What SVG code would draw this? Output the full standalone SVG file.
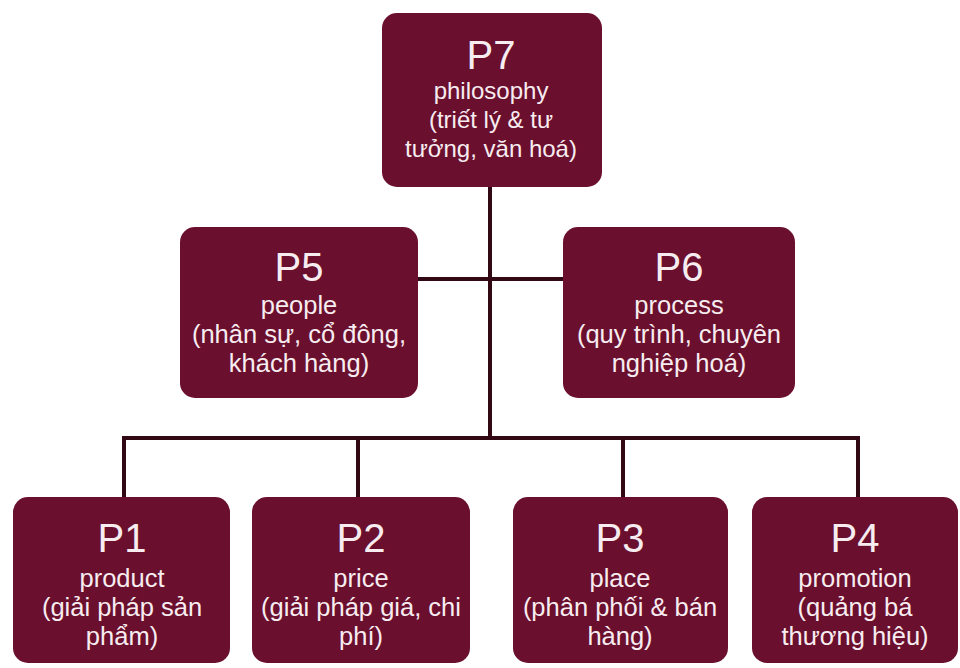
<svg xmlns="http://www.w3.org/2000/svg" width="960" height="668" viewBox="0 0 960 668">
<style>
.box{fill:#6a0f2d;}
.lbl{font-family:"Liberation Sans",Arial,sans-serif;font-size:40px;fill:#f7ecf0;text-anchor:middle;}
.sub{font-family:"Liberation Sans",Arial,sans-serif;font-size:25.5px;fill:#f7ecf0;text-anchor:middle;}
#p7 .sub{font-size:24px;}
.con{stroke:#320814;stroke-width:4;fill:none;}
</style>
<rect width="960" height="668" fill="#ffffff"/>
<g id="connectors">
<line class="con" x1="490" y1="187" x2="490" y2="438"/>
<line class="con" x1="418" y1="279" x2="563" y2="279"/>
<polyline class="con" points="124,497 124,438 858,438 858,497"/>
<line class="con" x1="358" y1="438" x2="358" y2="497"/>
<line class="con" x1="623" y1="438" x2="623" y2="497"/>
</g>
<g id="p7">
<rect class="box" x="382" y="13" width="220" height="174" rx="15"/>
<text class="lbl" x="491" y="69">P7</text>
<text class="sub" x="491" y="99">philosophy</text>
<text class="sub" x="491" y="128">(triết lý &amp; tư</text>
<text class="sub" x="491" y="157">tưởng, văn hoá)</text>
</g>
<g id="p5">
<rect class="box" x="180" y="227" width="238" height="171" rx="15"/>
<text class="lbl" x="299" y="281">P5</text>
<text class="sub" x="299" y="314">people</text>
<text class="sub" x="299" y="343">(nhân sự, cổ đông,</text>
<text class="sub" x="299" y="372">khách hàng)</text>
</g>
<g id="p6">
<rect class="box" x="563" y="227" width="232" height="171" rx="15"/>
<text class="lbl" x="679" y="281">P6</text>
<text class="sub" x="679" y="314">process</text>
<text class="sub" x="679" y="343">(quy trình, chuyên</text>
<text class="sub" x="679" y="372">nghiệp hoá)</text>
</g>
<g id="p1">
<rect class="box" x="13" y="497" width="217" height="166" rx="15"/>
<text class="lbl" x="122" y="552">P1</text>
<text class="sub" x="122" y="587">product</text>
<text class="sub" x="122" y="616">(giải pháp sản</text>
<text class="sub" x="122" y="645">phẩm)</text>
</g>
<g id="p2">
<rect class="box" x="252" y="497" width="218" height="166" rx="15"/>
<text class="lbl" x="361" y="552">P2</text>
<text class="sub" x="361" y="587">price</text>
<text class="sub" x="361" y="616">(giải pháp giá, chi</text>
<text class="sub" x="361" y="645">phí)</text>
</g>
<g id="p3">
<rect class="box" x="513" y="497" width="215" height="166" rx="15"/>
<text class="lbl" x="620" y="552">P3</text>
<text class="sub" x="620" y="587">place</text>
<text class="sub" x="620" y="616">(phân phối &amp; bán</text>
<text class="sub" x="620" y="645">hàng)</text>
</g>
<g id="p4">
<rect class="box" x="752" y="497" width="206" height="166" rx="15"/>
<text class="lbl" x="855" y="552">P4</text>
<text class="sub" x="855" y="587">promotion</text>
<text class="sub" x="855" y="616">(quảng bá</text>
<text class="sub" x="855" y="645">thương hiệu)</text>
</g>
</svg>
